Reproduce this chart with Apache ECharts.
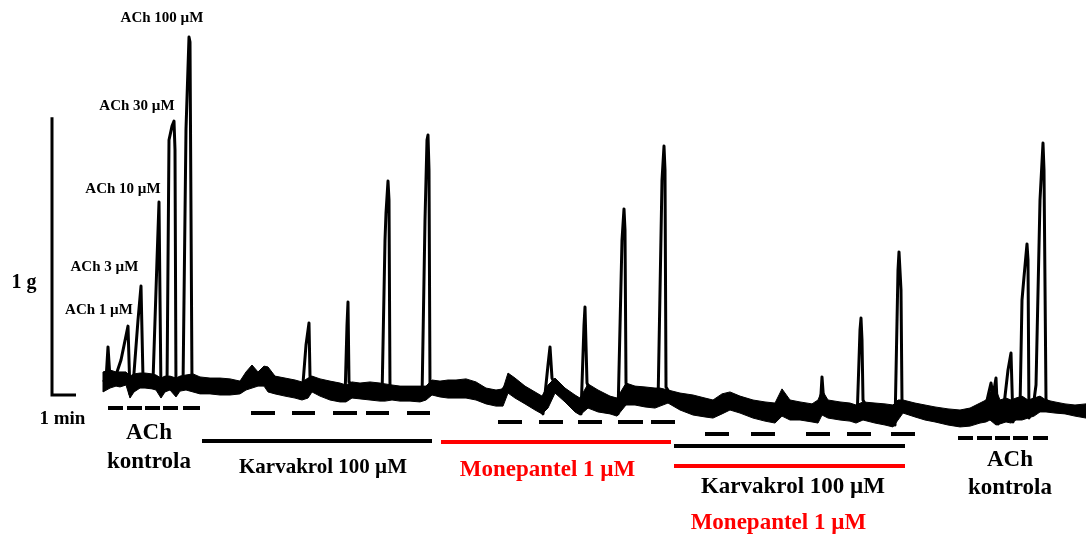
<!DOCTYPE html>
<html>
<head>
<meta charset="utf-8">
<script src="https://cdn.jsdelivr.net/npm/echarts@6/dist/echarts.min.js"></script>
<style>html,body{margin:0;padding:0;background:#fff}#c{width:1086px;height:534px}</style>
</head>
<body>
<div id="c"></div>
<script>
// time in seconds, tension in mg (1 g scale bar = 1000 mg, 1 min = 60 s)
const traceT  = [7.5,15,20,25,37.5,52.5,70,75,82.5,87.5,95,102.5,107.5,132.5,142.5,147.5,152.5,165,167.5,172.5,180,185,187.5,190,205,207.5,215,222.5,225,230,250,300,350,380,395,410,437.5,487.5,505,515,522.5,525,550,600,612.5,617.5,620,622.5,650,702.5,705,712.5,715,720,722.5,725,800,805,812.5,817.5,820,822.5,825,850,890,940,990,1020,1062.5,1102.5,1107.5,1120,1125,1130,1140,1175,1197.5,1202.5,1210,1212.5,1217.5,1230,1262.5,1290,1295,1305,1310,1312.5,1315,1330,1362.5,1390,1395,1405,1410,1412.5,1415,1430,1482.5,1532.5,1575,1632.5,1687.5,1705,1725,1780,1800,1805,1810,1850,1887.5,1892.5,1900,1902.5,1905,1907.5,1920,1982.5,1987.5,1995,1997.5,2002.5,2005,2020,2087.5,2150,2200,2212.5,2220,2227.5,2232.5,2235,2240,2245,2250,2260,2270,2277.5,2282.5,2290,2300,2305,2310,2317.5,2320,2322.5,2332.5,2340,2350,2357.5,2360,2365,2387.5,2425,2465];
const traceMg = [47,54,173,61,61,126,248,4,32,25,270,392,61,50,486,695,4,40,32,918,968,986,882,4,40,32,958,1289,1271,32,32,29,25,72,54,72,36,22,-4,180,259,68,29,11,-11,252,335,47,14,11,-11,558,655,770,702,18,4,-11,630,918,936,810,25,22,22,14,-11,43,0,-40,-68,108,173,61,32,-11,-40,-68,252,317,43,-4,-29,-47,-68,558,670,594,43,0,-7,-11,-32,774,896,810,29,-7,-36,-50,-22,-50,-65,-25,-54,-65,-58,65,-36,-58,-61,-90,234,277,198,-18,-54,-76,-108,450,515,378,-25,-47,-68,-83,-65,-54,-4,43,0,18,61,-104,-61,-36,90,151,-97,-47,-47,342,425,544,486,-83,-47,36,702,907,810,-18,-43,-54,-58];

// noise envelope of the baseline
const bandT   = [7.5,25,40,50,65,75,85,100,112.5,130,140,152.5,162.5,175,190,200,215,232.5,250,275,300,325,350,365,380,395,410,420,437.5,462.5,487.5,505,520,530,550,575,600,615,630,650,675,700,712.5,730,750,775,800,815,830,850,870,890,915,940,965,990,1007.5,1020,1037.5,1062.5,1087.5,1105,1120,1137.5,1162.5,1187.5,1200,1220,1245,1275,1292.5,1315,1337.5,1362.5,1387.5,1400,1420,1450,1482.5,1512.5,1532.5,1555,1575,1600,1632.5,1662.5,1687.5,1705,1725,1750,1780,1795,1805,1820,1850,1875,1890,1907.5,1937.5,1962.5,1982.5,1995,2007.5,2037.5,2062.5,2087.5,2120,2150,2175,2200,2215,2225,2240,2250,2265,2277.5,2290,2305,2320,2335,2350,2365,2387.5,2412.5,2437.5,2465];
const bandTop = [83,90,83,83,83,68,76,79,79,76,72,61,68,68,61,68,72,76,65,61,61,58,50,83,108,83,104,101,68,61,54,47,61,68,58,50,43,36,47,43,47,43,40,36,32,32,32,32,54,50,54,54,58,47,25,18,22,79,61,32,11,-4,36,61,25,0,-11,40,18,-4,-11,43,32,29,25,25,18,7,0,-11,-18,4,11,-4,-18,-25,-29,22,-18,-25,-32,-18,18,-18,-25,-29,-36,-25,-29,-32,-36,-18,-18,-29,-36,-43,-50,-54,-47,-29,-18,11,18,-18,-11,-18,-11,-4,-18,-11,-4,-18,-25,-32,-36,-32];
const bandBot = [11,25,32,29,36,-11,11,25,25,22,18,-11,11,18,-7,14,18,11,4,4,0,0,4,18,25,32,32,11,4,-4,-11,-18,-11,11,-4,-18,-25,-25,-11,-14,-18,-22,-22,-18,-22,-22,-25,-18,0,-7,-11,-11,-11,-18,-32,-40,-40,7,-11,-32,-54,-68,-47,7,-25,-61,-72,-47,-61,-68,-76,-36,-36,-43,-47,-40,-29,-54,-72,-79,-83,-68,-54,-65,-83,-94,-101,-76,-90,-90,-97,-101,-72,-83,-90,-94,-101,-90,-101,-108,-115,-90,-65,-79,-90,-97,-108,-115,-112,-101,-97,-90,-108,-104,-97,-101,-90,-90,-83,-76,-61,-61,-65,-68,-76,-83];

// application periods: dashed marks (start, end, level)
const dashStart = [20,67.5,112.5,157.5,207.5, 377.5,480,582.5,665,767.5, 995,1097.5,1195,1295,1377.5, 1512.5,1627.5,1765,1867.5,1977.5, 2145,2192.5,2237.5,2282.5,2332.5];
const dashEnd   = [57.5,105,150,195,250, 437.5,537.5,642.5,722.5,825, 1055,1157.5,1255,1357.5,1437.5, 1572.5,1687.5,1825,1927.5,2037.5, 2182.5,2230,2275,2320,2370];
const dashLevel = [-47,-47,-47,-47,-47, -65,-65,-65,-65,-65, -97,-97,-97,-97,-97, -140,-140,-140,-140,-140, -155,-155,-155,-155,-155];

// continuous drug bars
const barStart = [255, 852.5, 1435, 1435];
const barEnd   = [830, 1427.5, 2012.5, 2012.5];
const barLevel = [-166, -169, -184, -256];
const barColor = ['#000000', '#ff0000', '#000000', '#ff0000'];

// scale bars: 1 g and 1 min
const scaleT  = [-120, -120, -60];
const scaleMg = [1000, 0, 0];

// text labels
const labelText = ['ACh 100 µM','ACh 30 µM','ACh 10 µM','ACh 3 µM','ACh 1 µM','1 g','1 min','ACh','kontrola','ACh','kontrola','Karvakrol 100 µM','Monepantel 1 µM','Karvakrol 100 µM','Monepantel 1 µM'];
const labelT    = [155, 92.5, 57.5, 11, -2.5, -190, -94, 122.5, 122.5, 2275, 2275, 557.5, 1118.75, 1732.5, 1696];
const labelMg   = [1357, 1040, 742, 461, 306, 403, -86, -137, -241, -234, -335, -263, -270, -331, -461];
const labelSize = [15, 15, 15, 15, 15, 20, 19, 23, 23, 23, 23, 21, 23, 23, 23];
const labelColor= ['#000','#000','#000','#000','#000','#000','#000','#000','#000','#000','#000','#000','#ff0000','#000','#ff0000'];

const FONT = "'Liberation Serif','Times New Roman',serif";
const chart = echarts.init(document.getElementById('c'), null, {renderer: 'canvas'});

const tracePts = traceT.map((t, i) => [t, traceMg[i]]);
const dashData = dashStart.map((s, i) => ({coords: [[s, dashLevel[i]], [dashEnd[i], dashLevel[i]]]}));
const barData = barStart.map((s, i) => ({coords: [[s, barLevel[i]], [barEnd[i], barLevel[i]]], lineStyle: {color: barColor[i]}}));
const labelData = labelText.map((txt, i) => ({
  value: [labelT[i], labelMg[i]], name: txt,
  label: {fontSize: labelSize[i], color: labelColor[i]}
}));

chart.setOption({
  animation: false,
  backgroundColor: '#fff',
  grid: {left: 0, right: 0, top: 0, bottom: 0},
  xAxis: {type: 'value', min: -250, max: 2465, show: false},
  yAxis: {type: 'value', min: -500.4, max: 1422, show: false},
  series: [
    {
      type: 'custom', name: 'noise', silent: true, clip: false,
      data: [[0, 0]],
      renderItem: function (params, api) {
        const pts = [];
        for (let i = 0; i < bandT.length; i++) pts.push(api.coord([bandT[i], bandTop[i]]));
        for (let i = bandT.length - 1; i >= 0; i--) pts.push(api.coord([bandT[i], bandBot[i]]));
        return {type: 'polygon', shape: {points: pts}, style: {fill: '#000', stroke: '#000', lineWidth: 1}};
      }
    },
    {
      type: 'line', name: 'trace', data: tracePts, symbol: 'none', silent: true,
      lineStyle: {color: '#000', width: 3, join: 'round'}
    },
    {
      type: 'lines', coordinateSystem: 'cartesian2d', silent: true,
      data: dashData, lineStyle: {color: '#000', width: 4, opacity: 1}
    },
    {
      type: 'lines', coordinateSystem: 'cartesian2d', silent: true,
      data: barData, lineStyle: {width: 4, opacity: 1}
    },
    {
      type: 'line', name: 'scale', silent: true, symbol: 'none',
      data: scaleT.map((t, i) => [t, scaleMg[i]]),
      lineStyle: {color: '#000', width: 3, join: 'miter'}
    },
    {
      type: 'scatter', silent: true, symbolSize: 0,
      itemStyle: {opacity: 1},
      data: labelData,
      label: {
        show: true, position: 'inside', formatter: '{b}', opacity: 1,
        fontFamily: FONT, fontWeight: 'bold', align: 'center', verticalAlign: 'middle'
      }
    }
  ]
});
</script>
</body>
</html>
